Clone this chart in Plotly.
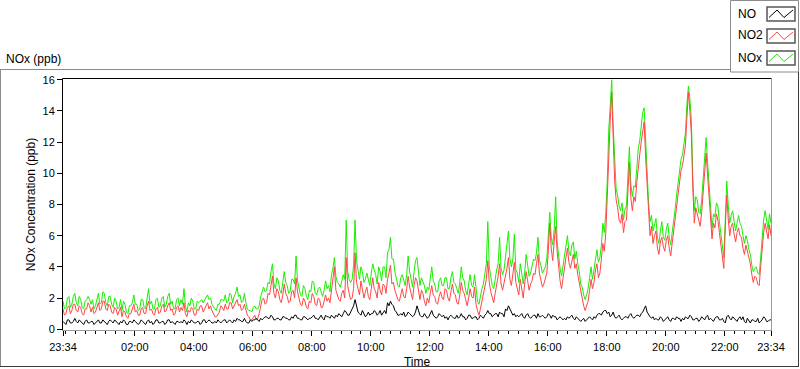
import pandas as pd
import plotly.graph_objects as go

start_time = "2000-01-01 23:34"
end_time = "2000-01-02 23:34"
step_minutes = 3

# NO2 (ppb), one row per hour starting at 23:34 (3-minute samples)
no2 = [
    1.3, 0.9, 1.0, 1.4, 1.5, 1.0, 1.2, 1.6, 1.6, 1.2, 1.1, 1.5, 1.4, 1.0, 0.9, 1.3, 1.3, 1.7, 1.5, 1.1,
    1.4, 1.0, 1.1, 1.5, 1.7, 1.2, 1.3, 1.8, 1.8, 1.3, 1.2, 1.6, 1.5, 1.1, 1.0, 1.4, 1.3, 0.9, 1.1, 1.4,
    0.8, 1.2, 1.1, 0.8, 0.7, 1.0, 1.0, 1.3, 1.6, 1.1, 1.2, 0.9, 0.9, 1.3, 1.4, 1.0, 1.0, 1.5, 1.8, 1.2,
    1.3, 1.0, 0.9, 1.3, 1.4, 1.0, 1.1, 1.5, 1.6, 1.1, 1.2, 1.5, 1.7, 1.2, 1.3, 0.9, 1.0, 1.4, 1.5, 1.1,
    1.4, 1.2, 1.7, 1.0, 0.8, 1.2, 1.1, 1.4, 1.3, 0.9, 0.9, 1.3, 1.2, 1.5, 1.5, 1.1, 1.3, 1.6, 1.7, 1.3,
    1.5, 1.2, 1.0, 0.8, 0.8, 1.0, 1.1, 1.5, 1.4, 1.2, 1.6, 1.3, 1.3, 1.7, 1.7, 1.3, 1.5, 1.8, 1.9, 1.5,
    1.6, 1.2, 1.3, 1.6, 1.2, 0.9, 0.8, 0.6, 0.6, 0.8, 0.9, 0.6, 0.7, 1.0, 1.4, 1.9, 2.0, 1.6, 1.7, 2.3,
    2.2, 2.8, 3.4, 2.3, 2.0, 2.6, 2.4, 1.9, 1.7, 2.2, 2.9, 2.3, 2.1, 1.7, 1.8, 2.4, 2.5, 2.0, 3.3, 2.4,
    2.0, 1.6, 1.5, 2.0, 1.8, 1.4, 1.3, 1.8, 1.7, 2.3, 2.1, 1.6, 1.5, 2.0, 1.9, 1.4, 1.4, 1.9, 2.2, 1.8,
    2.0, 1.7, 2.6, 3.1, 4.0, 2.5, 2.2, 1.9, 1.8, 2.3, 2.5, 2.0, 4.6, 2.8, 2.3, 1.9, 2.0, 2.6, 4.9, 3.0,
    2.6, 2.2, 3.1, 2.5, 2.0, 2.4, 2.7, 2.1, 1.9, 2.6, 3.3, 2.6, 2.4, 2.0, 3.0, 2.5, 2.2, 2.9, 2.8, 2.3,
    3.2, 3.6, 4.1, 2.9, 3.0, 2.5, 2.2, 1.9, 1.8, 2.3, 2.6, 2.1, 2.0, 2.6, 3.4, 2.7, 2.3, 1.9, 2.8, 3.3,
    3.1, 2.3, 1.9, 2.5, 2.3, 1.8, 1.5, 2.0, 1.7, 2.3, 2.8, 2.2, 2.1, 1.7, 1.6, 2.1, 2.4, 2.0, 1.9, 2.6,
    2.5, 2.0, 1.8, 2.4, 2.9, 2.3, 2.2, 1.7, 1.6, 2.2, 3.0, 2.5, 2.3, 1.9, 1.5, 2.0, 2.6, 2.1, 2.0, 2.7,
    1.6, 1.2, 0.9, 1.3, 1.8, 2.2, 2.6, 3.2, 4.4, 3.0, 2.4, 2.0, 1.7, 2.3, 2.8, 3.4, 4.2, 2.9, 2.5, 3.0,
    3.3, 3.9, 4.6, 3.2, 2.8, 3.6, 4.3, 3.0, 2.6, 2.2, 3.2, 2.6, 2.0, 2.9, 3.7, 3.1, 2.5, 2.9, 3.1, 3.6,
    3.5, 4.2, 4.8, 3.6, 3.2, 2.7, 2.9, 3.3, 3.6, 5.0, 6.8, 5.2, 4.4, 5.6, 6.6, 5.0, 3.8, 3.1, 2.6, 3.4,
    4.0, 4.6, 5.2, 4.3, 3.9, 4.5, 4.8, 3.9, 4.2, 3.5, 3.0, 2.4, 2.0, 1.5, 1.2, 1.6, 1.8, 2.5, 3.2, 2.6,
    3.0, 3.8, 4.2, 3.3, 3.6, 4.5, 5.5, 5.0, 6.2, 8.5, 11.6, 13.4, 15.2, 12.0, 9.5, 8.3, 7.8, 7.0, 6.8, 7.4,
    6.2, 6.9, 7.0, 8.8, 10.7, 8.4, 7.6, 8.5, 8.2, 9.4, 10.5, 11.2, 12.0, 12.8, 13.3, 11.0, 9.0, 7.2, 6.0, 6.6,
    5.5, 6.0, 6.3, 5.2, 4.8, 5.6, 5.9, 5.3, 5.0, 5.7, 6.0, 5.2, 4.7, 5.5, 6.3, 7.0, 7.8, 8.6, 9.5, 10.2,
    10.5, 11.2, 11.8, 13.6, 15.2, 14.0, 12.5, 9.0, 6.8, 7.8, 7.4, 6.9, 6.6, 7.5, 8.8, 10.0, 11.3, 9.9, 8.5, 7.0,
    5.8, 6.8, 6.5, 7.4, 7.0, 6.2, 5.4, 4.6, 3.9, 6.5, 8.6, 7.1, 6.0, 6.6, 6.8, 6.1, 5.6, 6.2, 6.5, 6.0,
    5.9, 5.2, 4.8, 5.4, 5.0, 4.5, 4.2, 3.5, 3.0, 3.4, 3.3, 2.9, 2.8, 4.0, 5.3, 6.2, 6.8, 6.4, 5.8, 6.7, 6.0,
]

# NO (ppb)
no = [
    0.5, 0.4, 0.3, 0.6, 0.6, 0.4, 0.4, 0.5, 0.7, 0.5, 0.4, 0.6, 0.5, 0.4, 0.3, 0.5, 0.6, 0.4, 0.4, 0.5,
    0.5, 0.3, 0.4, 0.5, 0.6, 0.4, 0.4, 0.6, 0.5, 0.4, 0.3, 0.5, 0.6, 0.5, 0.4, 0.6, 0.5, 0.4, 0.3, 0.5,
    0.4, 0.6, 0.5, 0.3, 0.3, 0.5, 0.5, 0.4, 0.6, 0.5, 0.4, 0.3, 0.4, 0.6, 0.5, 0.4, 0.3, 0.5, 0.6, 0.4,
    0.5, 0.3, 0.4, 0.6, 0.6, 0.4, 0.4, 0.5, 0.5, 0.3, 0.4, 0.6, 0.6, 0.4, 0.5, 0.4, 0.3, 0.5, 0.5, 0.4,
    0.5, 0.4, 0.6, 0.5, 0.3, 0.5, 0.4, 0.6, 0.5, 0.4, 0.4, 0.5, 0.5, 0.3, 0.4, 0.6, 0.6, 0.4, 0.5, 0.6,
    0.5, 0.4, 0.4, 0.5, 0.4, 0.6, 0.5, 0.4, 0.5, 0.6, 0.6, 0.4, 0.5, 0.6, 0.5, 0.4, 0.6, 0.5, 0.7, 0.6,
    0.6, 0.5, 0.5, 0.7, 0.5, 0.4, 0.4, 0.6, 0.5, 0.6, 0.6, 0.7, 0.6, 0.5, 0.7, 0.6, 0.7, 0.8, 0.8, 0.7,
    0.7, 0.9, 0.8, 0.6, 0.6, 0.7, 0.7, 0.6, 0.6, 0.8, 0.8, 0.7, 0.7, 0.6, 0.6, 0.8, 0.7, 0.9, 0.9, 0.7,
    0.7, 0.6, 0.6, 0.8, 0.8, 0.7, 0.6, 0.7, 0.7, 0.8, 0.9, 0.7, 0.7, 0.6, 0.8, 0.9, 0.7, 0.6, 0.9, 0.8,
    0.8, 0.7, 0.9, 0.8, 0.7, 0.9, 0.8, 1.0, 0.9, 0.8, 1.0, 1.2, 1.1, 0.9, 0.9, 1.1, 1.2, 1.5, 1.9, 1.4,
    1.1, 1.0, 0.9, 1.2, 1.0, 0.8, 0.9, 1.1, 0.9, 1.0, 1.0, 1.2, 1.1, 0.9, 1.0, 1.2, 0.9, 1.1, 1.2, 1.0,
    1.7, 1.5, 1.8, 1.6, 1.5, 1.2, 1.1, 0.9, 0.9, 1.0, 0.9, 1.1, 0.8, 0.9, 1.1, 1.0, 0.9, 0.8, 0.9, 1.1,
    1.5, 1.1, 0.9, 0.8, 0.8, 1.0, 0.8, 0.7, 0.8, 1.0, 1.2, 0.9, 0.8, 0.7, 0.8, 1.0, 0.9, 0.8, 0.9, 0.7,
    0.8, 0.6, 0.8, 0.9, 0.8, 0.7, 0.7, 0.9, 0.7, 0.8, 1.0, 0.8, 0.8, 0.6, 0.7, 0.9, 0.9, 0.7, 0.7, 0.8,
    0.8, 0.6, 0.7, 0.9, 0.8, 0.7, 0.9, 1.0, 1.2, 1.0, 1.0, 0.8, 0.9, 1.0, 1.0, 0.8, 1.1, 1.0, 1.0, 0.8,
    1.3, 1.2, 1.5, 1.3, 1.1, 0.9, 1.0, 0.8, 0.9, 0.8, 0.9, 1.0, 0.8, 0.7, 0.9, 1.0, 0.8, 0.7, 0.8, 0.9,
    0.9, 0.7, 1.0, 0.8, 0.8, 0.9, 0.8, 0.7, 0.8, 1.0, 0.9, 0.7, 0.9, 0.8, 0.8, 0.6, 0.7, 0.8, 0.7, 0.6,
    0.7, 0.6, 0.8, 0.7, 0.8, 0.9, 0.7, 0.6, 0.8, 0.7, 0.6, 0.5, 0.6, 0.7, 0.5, 0.6, 0.7, 0.8, 0.7, 0.6,
    0.8, 0.7, 0.9, 1.0, 1.0, 0.9, 1.1, 1.2, 1.2, 1.0, 1.1, 0.8, 0.9, 1.1, 0.8, 0.7, 0.8, 0.9, 0.7, 0.6,
    0.7, 0.8, 0.8, 0.7, 0.9, 1.0, 0.8, 0.7, 0.8, 0.9, 0.9, 0.8, 1.0, 1.1, 1.3, 1.5, 1.1, 0.9, 0.8, 0.7,
    0.8, 0.6, 0.7, 0.6, 0.6, 0.8, 0.7, 0.5, 0.6, 0.7, 0.8, 0.6, 0.5, 0.7, 0.7, 0.6, 0.8, 0.7, 0.7, 0.5,
    0.7, 0.6, 0.8, 0.7, 0.7, 0.9, 0.8, 0.6, 0.6, 0.7, 0.7, 0.5, 0.6, 0.8, 0.7, 0.6, 0.8, 0.9, 0.6, 0.7,
    0.6, 0.5, 0.7, 0.8, 0.8, 0.6, 0.6, 0.7, 0.5, 0.4, 0.8, 0.9, 0.7, 0.6, 0.8, 0.7, 0.6, 0.5, 0.7, 0.8,
    0.6, 0.8, 0.5, 0.4, 0.7, 0.5, 0.4, 0.6, 0.6, 0.5, 0.5, 0.7, 0.4, 0.5, 0.6, 0.8, 0.7, 0.5, 0.5, 0.6, 0.6,
]

# NOx (ppb)
nox = [
    1.8, 1.3, 1.4, 2.0, 2.1, 1.4, 1.6, 2.1, 2.3, 1.7, 1.5, 2.1, 1.9, 1.4, 1.3, 1.8, 1.9, 2.1, 1.9, 1.6,
    1.9, 1.3, 1.5, 2.0, 2.3, 1.6, 1.7, 2.4, 2.3, 1.7, 1.5, 2.1, 2.1, 1.6, 1.4, 2.0, 1.8, 1.3, 1.4, 1.9,
    1.2, 1.8, 1.6, 1.1, 1.0, 1.5, 1.5, 1.7, 2.2, 1.6, 1.6, 1.2, 1.3, 1.9, 1.9, 1.4, 1.3, 2.0, 2.6, 1.6,
    1.8, 1.3, 1.3, 1.9, 2.0, 1.4, 1.5, 2.0, 2.1, 1.4, 1.6, 2.1, 2.3, 1.6, 1.8, 1.3, 1.3, 1.9, 2.0, 1.5,
    1.9, 1.6, 2.6, 1.5, 1.1, 1.7, 1.5, 2.0, 1.8, 1.3, 1.3, 1.8, 1.7, 1.8, 1.9, 1.7, 1.9, 2.0, 2.2, 1.9,
    2.0, 1.6, 1.4, 1.3, 1.2, 1.6, 1.6, 1.9, 1.9, 1.8, 2.2, 1.7, 1.8, 2.3, 2.2, 1.7, 2.1, 2.3, 2.7, 2.1,
    2.2, 1.7, 1.8, 2.3, 1.7, 1.3, 1.2, 1.2, 1.1, 1.4, 1.5, 1.3, 1.3, 1.5, 2.1, 2.5, 2.7, 2.4, 2.5, 3.0,
    2.9, 3.7, 4.2, 2.9, 2.6, 3.3, 3.1, 2.5, 2.3, 3.0, 3.7, 3.0, 2.8, 2.3, 2.4, 3.2, 3.2, 2.9, 4.7, 3.1,
    2.7, 2.2, 2.1, 2.8, 2.6, 2.1, 1.9, 2.5, 2.4, 3.1, 3.0, 2.3, 2.2, 2.6, 2.7, 2.3, 2.1, 2.5, 3.1, 2.6,
    2.8, 2.4, 3.5, 3.9, 4.6, 3.4, 3.0, 2.9, 2.7, 3.1, 3.5, 3.2, 7.0, 3.7, 3.2, 3.0, 3.2, 4.1, 7.0, 4.4,
    3.7, 3.2, 4.0, 3.7, 3.0, 3.2, 3.6, 3.2, 2.8, 3.6, 4.2, 3.8, 3.5, 2.9, 4.0, 3.7, 3.1, 4.0, 4.0, 3.3,
    4.9, 5.1, 5.9, 4.5, 4.5, 3.7, 3.3, 2.8, 2.7, 3.3, 3.5, 3.2, 2.8, 3.5, 4.7, 3.7, 3.2, 2.7, 3.7, 4.4,
    4.6, 3.4, 2.8, 3.3, 3.1, 2.8, 2.3, 2.7, 2.5, 3.3, 4.0, 3.1, 2.9, 2.4, 2.4, 3.1, 3.3, 2.8, 2.8, 3.3,
    3.3, 2.6, 2.6, 3.3, 3.7, 3.0, 2.9, 2.6, 2.3, 3.0, 4.0, 3.3, 3.1, 2.5, 2.2, 2.9, 3.5, 2.8, 2.7, 3.5,
    2.4, 1.8, 1.6, 2.2, 2.6, 2.9, 3.5, 4.2, 6.9, 4.0, 3.4, 2.8, 2.6, 3.3, 3.8, 4.2, 5.9, 3.9, 3.5, 3.8,
    4.6, 5.1, 6.3, 4.5, 4.0, 4.5, 6.1, 3.8, 3.6, 3.0, 4.2, 3.6, 2.9, 3.6, 4.8, 4.1, 3.4, 3.6, 4.1, 4.5,
    4.4, 4.9, 5.9, 4.4, 4.1, 3.6, 3.8, 4.0, 4.5, 6.0, 7.5, 5.9, 5.4, 6.4, 8.5, 5.6, 4.7, 3.9, 3.4, 4.0,
    4.8, 5.2, 6.0, 5.0, 4.7, 5.4, 5.6, 4.5, 5.0, 4.2, 3.7, 2.9, 2.7, 2.2, 1.9, 2.2, 2.6, 3.3, 4.0, 3.2,
    3.8, 4.5, 5.1, 4.3, 4.6, 5.4, 6.8, 6.2, 7.5, 9.5, 12.8, 14.3, 16.0, 13.1, 10.4, 9.0, 8.6, 7.9, 7.6, 8.1,
    7.0, 7.7, 7.9, 9.6, 11.7, 9.3, 8.5, 9.2, 9.1, 10.3, 11.6, 12.1, 13.0, 13.9, 14.2, 12.1, 10.0, 8.1, 6.9, 7.3,
    6.3, 6.7, 7.1, 5.9, 5.5, 6.3, 6.9, 5.9, 5.7, 6.4, 6.8, 5.9, 5.4, 6.2, 7.2, 7.7, 8.6, 9.3, 10.3, 10.9,
    11.2, 11.9, 12.6, 14.4, 15.6, 14.8, 13.4, 9.7, 7.6, 8.5, 8.3, 7.5, 7.4, 8.3, 9.6, 10.7, 12.3, 10.7, 9.2, 7.7,
    6.5, 7.4, 7.2, 8.1, 7.9, 6.9, 6.1, 5.3, 4.6, 7.0, 9.5, 8.0, 6.8, 7.3, 7.6, 6.9, 6.3, 6.8, 7.3, 6.8,
    6.6, 6.0, 5.5, 6.0, 5.7, 5.1, 4.8, 4.1, 3.7, 3.9, 4.0, 3.6, 3.5, 4.6, 6.0, 7.0, 7.6, 7.0, 6.4, 7.4, 6.8,
]

x_tick_vals = ["2000-01-01 23:34", "2000-01-02 02:00", "2000-01-02 04:00",
               "2000-01-02 06:00", "2000-01-02 08:00", "2000-01-02 10:00",
               "2000-01-02 12:00", "2000-01-02 14:00", "2000-01-02 16:00",
               "2000-01-02 18:00", "2000-01-02 20:00", "2000-01-02 22:00",
               "2000-01-02 23:34"]
x_tick_text = ["23:34", "02:00", "04:00", "06:00", "08:00", "10:00", "12:00",
               "14:00", "16:00", "18:00", "20:00", "22:00", "23:34"]
y_tick_vals = [0, 2, 4, 6, 8, 10, 12, 14, 16]

series_names = ["NO", "NO2", "NOx"]
series_colors = ["#000000", "#ff4646", "#19ee00"]

times = pd.date_range(start_time, periods=len(no2), freq=f"{step_minutes}min")

FONT = "Liberation Sans, Arial, sans-serif"
W, H = 800, 369
PL, PR, PT, PB = 63, 771, 79, 330  # plot area in pixels


def xp(px):
    return (px - PL) / (PR - PL)


def yp(py):
    return (PB - py) / (PB - PT)


fig = go.Figure()
for name, vals in [("NOx", nox), ("NO2", no2), ("NO", no)]:
    fig.add_trace(go.Scatter(
        x=times, y=vals, mode="lines", name=name,
        line=dict(color=series_colors[series_names.index(name)], width=1),
        hoverinfo="x+y+name",
    ))

shapes = []


def line(x0, y0, x1, y1, color, width=1):
    shapes.append(dict(type="line", xref="paper", yref="paper",
                       x0=xp(x0), y0=yp(y0), x1=xp(x1), y1=yp(y1),
                       line=dict(color=color, width=width)))


# outer panel frame
line(0, 69.5, 730, 69.5, "#8c8c8c")
line(0.5, 69, 0.5, 367, "#8c8c8c")
line(0, 366.5, 799, 366.5, "#3c3c3c")
line(798.5, 72, 798.5, 367, "#3c3c3c")
# plot frame
line(62.5, 78.5, 771.5, 78.5, "#000000")
line(62.5, 78.5, 62.5, 330.5, "#000000")
line(62.5, 330.5, 772, 330.5, "#999999")
line(771.5, 78.5, 771.5, 330.5, "#999999")
# legend box
shapes.append(dict(type="rect", xref="paper", yref="paper",
                   x0=xp(730.5), x1=xp(798.5), y0=yp(72), y1=yp(0.5),
                   line=dict(color="#8c8c8c", width=1), fillcolor="white",
                   layer="above"))

annotations = [dict(text="NOx (ppb)", xref="paper", yref="paper",
                    x=xp(4), y=yp(59), xanchor="left", yanchor="middle",
                    showarrow=False, font=dict(family=FONT, size=12, color="#000"))]

row_centers = [14, 36, 58]
for name, color, cy in zip(series_names, series_colors, row_centers):
    annotations.append(dict(text=name, xref="paper", yref="paper",
                            x=xp(736), y=yp(cy - 0.5), xanchor="left",
                            yanchor="middle", showarrow=False,
                            font=dict(family=FONT, size=12, color="#000")))
    shapes.append(dict(type="rect", xref="paper", yref="paper",
                       x0=xp(767), x1=xp(795), y0=yp(cy + 7), y1=yp(cy - 7),
                       line=dict(color="#555555", width=1.5), fillcolor="white"))
    path = (f"M {xp(769)},{yp(cy + 3.5)} L {xp(777)},{yp(cy - 4)} "
            f"L {xp(784)},{yp(cy + 3.5)} L {xp(793)},{yp(cy - 4)}")
    shapes.append(dict(type="path", xref="paper", yref="paper", path=path,
                       line=dict(color=color, width=1)))

fig.update_layout(
    width=W, height=H,
    margin=dict(l=PL, r=W - PR, t=PT, b=H - PB, pad=0, autoexpand=False),
    paper_bgcolor="white", plot_bgcolor="white",
    showlegend=False,
    font=dict(family=FONT, size=11, color="#000"),
    shapes=shapes, annotations=annotations,
    xaxis=dict(
        type="date", range=[start_time, end_time], automargin=False,
        tickmode="array", tickvals=x_tick_vals, ticktext=x_tick_text,
        ticks="outside", ticklen=5, tickcolor="#000", tickwidth=1,
        ticklabelstandoff=2,
        tickfont=dict(family=FONT, size=11, color="#000"),
        showgrid=False, zeroline=False, showline=False,
        minor=dict(ticks="outside", ticklen=3, tickcolor="#000", tickwidth=1,
                   dtick=20 * 60 * 1000, tick0="2000-01-01 00:00", showgrid=False),
        title=dict(text="Time", font=dict(family=FONT, size=12, color="#000"),
                   standoff=6),
        fixedrange=True,
    ),
    yaxis=dict(
        range=[-0.05, 16.05], tickmode="array", tickvals=y_tick_vals,
        automargin=False,
        ticks="outside", ticklen=5, tickcolor="#000", tickwidth=1,
        tickfont=dict(family=FONT, size=11, color="#000"),
        showgrid=False, zeroline=False, showline=False,
        title=dict(text="NOx Concentration (ppb)",
                   font=dict(family=FONT, size=12, color="#000"), standoff=4),
        fixedrange=True,
    ),
)

fig.write_html(
    "out.html",
    config={"displayModeBar": False},
    post_script="document.body.style.margin='0';document.body.style.overflow='hidden';",
)
